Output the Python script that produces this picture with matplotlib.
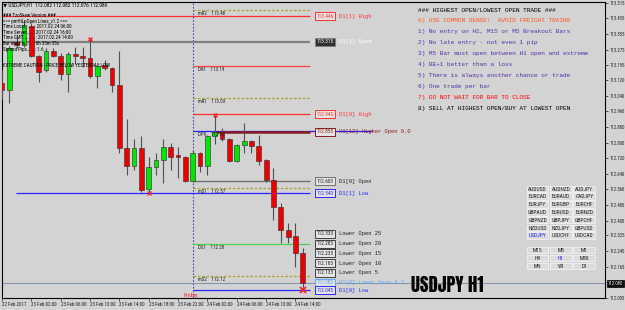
import numpy as np
import pandas as pd
import matplotlib
matplotlib.use('Agg')
import matplotlib.pyplot as plt
import matplotlib.transforms as mtrans
from matplotlib.patches import Rectangle

# ---------------- data ----------------
bar_start = '2017-02-22 22:00'
opens = [113.105, 113.069, 113.314, 113.299, 113.396, 113.243, 113.171, 113.268, 113.243, 113.151,
         113.253, 113.243, 113.232, 113.140, 113.197, 113.181, 113.094, 112.772, 112.680, 112.772,
         112.563, 112.675, 112.711, 112.777, 112.736, 112.726, 112.604, 112.747, 112.680, 112.834,
         112.854, 112.818, 112.706, 112.788, 112.808, 112.782, 112.711, 112.609, 112.471, 112.353,
         112.322, 112.235]
highs = [113.171, 113.294, 113.340, 113.427, 113.410, 113.250, 113.283, 113.283, 113.258, 113.263,
         113.289, 113.289, 113.329, 113.197, 113.222, 113.186, 113.268, 112.920, 112.818, 112.834,
         112.726, 112.747, 112.818, 112.798, 112.777, 112.731, 112.762, 112.752, 112.840, 112.941,
         112.875, 112.823, 112.793, 112.900, 112.813, 112.839, 112.716, 112.670, 112.491, 112.389,
         112.389, 112.261]
lows = [113.018, 113.002, 113.283, 113.290, 113.235, 113.110, 113.160, 113.235, 113.120, 113.059,
        113.202, 113.186, 113.130, 113.079, 113.171, 113.059, 112.747, 112.634, 112.660, 112.548,
        112.542, 112.634, 112.593, 112.660, 112.619, 112.598, 112.598, 112.650, 112.634, 112.793,
        112.808, 112.700, 112.700, 112.747, 112.747, 112.685, 112.598, 112.404, 112.287, 112.287,
        112.164, 112.046]
closes = [113.069, 113.283, 113.299, 113.401, 113.243, 113.161, 113.268, 113.243, 113.151, 113.253,
          113.243, 113.232, 113.140, 113.191, 113.181, 113.094, 112.772, 112.680, 112.772, 112.558,
          112.675, 112.711, 112.777, 112.726, 112.726, 112.604, 112.747, 112.680, 112.834, 112.854,
          112.818, 112.706, 112.788, 112.808, 112.782, 112.706, 112.609, 112.471, 112.353, 112.317,
          112.235, 112.080]
high_marks = [12, 29]
low_marks = [20]
last_low_mark = [41]

price_ticks = [113.515, 113.435, 113.355, 113.275, 113.195, 113.120, 113.040, 112.960, 112.880,
               112.800, 112.720, 112.640, 112.560, 112.480, 112.400, 112.325, 112.245, 112.165,
               112.085, 112.005]
bid_price = 112.080

level_names = ['D1[1] High', 'D1[1] Open', 'D1[0] High', 'H1[12] Higher Open 9.0',
               'D1[0] Open', 'D1[1] Low', 'H1[0] Lower Open 9.7', 'D1[0] Low']
level_values = [113.446, 113.315, 112.945, 112.855, 112.603, 112.540, 112.083, 112.045]
lower_open_names = ['Lower Open 25', 'Lower Open 20', 'Lower Open 15', 'Lower Open 10', 'Lower Open 5']
lower_open_values = [112.333, 112.283, 112.233, 112.183, 112.133]
pivot_names = ['mR2', 'DR1', 'mR1', 'DPV', 'mS1', 'DS1', 'mS2']
pivot_values = [113.48, 113.19, 113.03, 112.86, 112.57, 112.28, 112.12]

header_text = '\u25bc USDJPY,H1  112.082 112.082 112.076 112.080'
info_lines = ['### TzoSkew Version ###',
              '=== pmHiLoOpen Lines_v1.2 ===',
              'Time Local.......: 2017.02.24 06:00',
              'Time Server.....: 2017.02.24 16:00',
              'Time GMT.........: 2017.02.24 14:00',
              'Bar ends in......: 0h 33m 33s',
              'Spread Pips......: 1.6']
warning_text = 'EXTREME CAUTION - PRICE BELOW YESTERDAY LOW'
rules_lines = ['### HIGHEST OPEN/LOWEST OPEN TRADE ###',
               '0) USE COMMON SENSE!  AVOID FREIGHT TRAINS',
               '1) No entry on H1, M15 or M5 Breakout Bars',
               '2) No late entry - not even 1 pip',
               '3) M5 Bar must open between H1 open and extreme',
               '4) BE+1 better than a loss',
               '5) There is always another chance or trade',
               '6) One trade per bar',
               '7) DO NOT WAIT FOR BAR TO CLOSE',
               '8) SELL AT HIGHEST OPEN/BUY AT LOWEST OPEN']
symbols = [['AUDUSD', 'AUDNZD', 'AUDJPY'],
           ['EURCAD', 'EURAUD', 'CADJPY'],
           ['EURJPY', 'EURGBP', 'EURCHF'],
           ['GBPAUD', 'EURUSD', 'EURNZD'],
           ['GBPNZD', 'GBPJPY', 'GBPCHF'],
           ['NZDUSD', 'NZDJPY', 'GBPUSD'],
           ['USDJPY', 'USDCHF', 'USDCAD']]
timeframes = [['M15', 'M5', 'M1'], ['H4', 'H1', 'M30'], ['MN', 'W1', 'D1']]
active_symbol = 'USDJPY'
active_tf = 'H1'
chart_title = 'USDJPY H1'
day_label = 'Friday'

times = pd.date_range(bar_start, periods=len(opens), freq='h')

# ---------------- styles / layout ----------------
W, H = 625, 310
BG = '#d3d3d3'
NARROW = ['Roboto Condensed', 'DejaVu Sans']
MONO = ['Liberation Mono', 'DejaVu Sans Mono']
TITLE = ['Anton SC', 'Oswald', 'DejaVu Sans']
BAR_PX0, BAR_DX = 1.66, 7.34


def xd(px):
    return (px - BAR_PX0) / BAR_DX


fig = plt.figure(figsize=(W / 100, H / 100), dpi=100, facecolor=BG)
ax = fig.add_axes([2 / W, 1 - 298 / H, (605 - 2) / W, (298 - 2) / H], facecolor=BG)
ax.set_xlim(xd(2), xd(605))
ax.set_ylim(112.0054, 113.5186)
for s in ax.spines.values():
    s.set_color('black')
    s.set_linewidth(0.8)

idx = np.arange(len(opens))
o = np.array(opens); c = np.array(closes); hi = np.array(highs); lo = np.array(lows)
up = c >= o

ax.vlines(idx, lo, hi, color='#505050', lw=0.8, zorder=3)
ax.bar(idx, np.abs(c - o), bottom=np.minimum(o, c), width=0.66,
       color=np.where(up, '#00e800', '#ee0000'), edgecolor='#383838', linewidth=0.45, zorder=4)

fri = int(np.argmax(times.day == 24))
ax.axvline(fri, color='#4848a8', lw=0.8, ls=(0, (1.5, 1.5)), zorder=2)

line_end = xd(310)
dotted = (0, (2, 1.5))
piv_style = {'mR2': ('#a8a030', dotted), 'DR1': ('#ff4040', '-'), 'mR1': ('#a8a030', dotted),
             'DPV': ('#2020ff', '-'), 'mS1': ('#a8a030', dotted), 'DS1': ('#50d050', '-'),
             'mS2': ('#a8a030', dotted)}
for name, val in zip(pivot_names, pivot_values):
    col, ls = piv_style[name]
    x1 = xd(372) if name == 'DPV' else line_end
    ax.hlines(val, fri, x1, color=col, lw=0.9, linestyles=ls, zorder=2)
    ax.annotate(f'{name}    {val:.2f}', (xd(198), val), xytext=(0, -0.8), textcoords='offset points',
                fontsize=3.6, family=NARROW, color='#202020', va='top', ha='left', zorder=6)

lvl_style = {
    'D1[1] High': dict(color='#ff3030', start=xd(2), lw=0.9, fc='#e4e4e4', tc='#ff3030', draw=True),
    'D1[1] Open': dict(color='#808080', start=xd(2), lw=1.6, fc='#303030', tc='white', draw=True),
    'D1[0] High': dict(color='#ff3030', start=fri, lw=0.9, fc='#e4e4e4', tc='#ff3030', draw=True),
    'H1[12] Higher Open 9.0': dict(color='#8b1a1a', start=xd(216), lw=1.8, fc='#e4e4e4', tc='#8b1a1a', draw=True),
    'D1[0] Open': dict(color='#707070', start=fri, lw=1.0, fc='#e4e4e4', tc='#202020', draw=True),
    'D1[1] Low': dict(color='#2828ff', start=xd(16), lw=0.9, fc='#e4e4e4', tc='#2828ff', draw=True),
    'H1[0] Lower Open 9.7': dict(color='#5aa8ff', start=fri, lw=0.9, fc='#e4e4e4', tc='#5aa8ff', draw=False),
    'D1[0] Low': dict(color='#2828ff', start=fri, lw=0.9, fc='#e4e4e4', tc='#2828ff', draw=True),
}
for name, val in zip(level_names, level_values):
    st = lvl_style[name]
    if st['draw']:
        ax.hlines(val, st['start'], line_end, color=st['color'], lw=st['lw'], zorder=2)
    ax.text(xd(316.5), val, f'{val:.3f}', fontsize=3.8, family=NARROW, color=st['tc'],
            va='center', ha='left', zorder=7,
            bbox=dict(boxstyle='square,pad=0.3', fc=st['fc'], ec=st['color'], lw=0.7))
    ax.text(xd(339), val, name, fontsize=3.9, family=MONO, color=st['tc'], va='center', ha='left', zorder=7)

for name, val in zip(lower_open_names, lower_open_values):
    ax.text(xd(316.5), val, f'{val:.3f}', fontsize=3.8, family=NARROW, color='#202020',
            va='center', ha='left', zorder=7,
            bbox=dict(boxstyle='square,pad=0.3', fc='#e4e4e4', ec='#404040', lw=0.7))
    ax.text(xd(339), val, name, fontsize=3.9, family=MONO, color='#202020', va='center', ha='left', zorder=7)

ax.axhline(bid_price, color='#8896a8', lw=0.8, zorder=2)

ax.plot(idx[high_marks], hi[high_marks], ls='none', marker='X', ms=3, color='#ff2020', mew=0.3, zorder=6)
ax.plot(idx[low_marks], lo[low_marks], ls='none', marker='x', ms=3, color='#ff2020', mew=0.9, zorder=6)
ax.plot(idx[last_low_mark], lo[last_low_mark], ls='none', marker='x', ms=5, color='#ff2020', mew=1.3, zorder=6)

ax.yaxis.tick_right()
ax.set_yticks(price_ticks)
ax.set_yticklabels(['' if abs(v - bid_price) < 0.01 else f'{v:.3f}' for v in price_ticks],
                   fontsize=3.4, family=NARROW)
ax.tick_params(axis='y', length=2.5, width=0.5, pad=1.0, colors='#202020')
xt = idx[::4]
ax.set_xticks(xt)
ax.set_xticklabels(['22 Feb 2017' if i == 0 else times[i].strftime('%d %b %H:%M') for i in xt],
                   fontsize=3.6, family=NARROW, ha='left')
ax.tick_params(axis='x', length=2, width=0.5, pad=1.2, colors='#202020')

btrans = mtrans.blended_transform_factory(ax.transAxes, ax.transData)
ax.text(1.0045, bid_price, f'{bid_price:.3f}', transform=btrans, fontsize=3.4, family=NARROW,
        color='white', va='center', ha='left', zorder=8, clip_on=False,
        bbox=dict(boxstyle='square,pad=0.25', fc='black', ec='black', lw=0.5))

# ---------------- overlay (screen objects) ----------------
ov = fig.add_axes([0, 0, 1, 1], facecolor='none')
ov.set_xlim(0, W)
ov.set_ylim(H, 0)
ov.axis('off')

ov.text(3, 5, header_text, fontsize=3.9, family=NARROW, color='black', va='center', ha='left')
for k, line in enumerate(info_lines):
    ov.text(3, 15.7 + k * 5.55, line, fontsize=3.6, family=NARROW, color='black', va='center', ha='left')
ov.text(3, 65.5, warning_text, fontsize=3.7, family=NARROW, color='black', va='center', ha='left')

rule_colors = ['black', '#ff5522', '#5530a8', '#5530a8', '#5530a8', '#5530a8', '#5530a8', '#5530a8',
               '#ff0000', 'black']
for k, (line, col) in enumerate(zip(rules_lines, rule_colors)):
    yy = 10 if k == 0 else 20.7 + (k - 1) * 11
    ov.text(418, yy, line, fontsize=4.4, family=MONO, color=col, va='center', ha='left')

col_x = [526.7, 550.0, 573.3]
bw, bh = 21.7, 6.6


def button(x, y, label, active):
    ov.add_patch(Rectangle((x, y), bw, bh, fc='#dcdcdc', ec='#f2f2f2', lw=0.6))
    ov.text(x + bw / 2, y + bh / 2 + 0.2, label, fontsize=4.0, family=NARROW,
            color='#2020ff' if active else '#202020', ha='center', va='center')


for r, row in enumerate(symbols):
    for ci, s in enumerate(row):
        button(col_x[ci], 185.6 + r * 7.8, s, s == active_symbol)
for r, row in enumerate(timeframes):
    for ci, s in enumerate(row):
        button(col_x[ci], 246.6 + r * 8.0, s, s == active_tf)

ov.text(411, 284.5, chart_title, fontsize=13.5, family=TITLE, color='black', va='center', ha='left')
ov.text(184, 295.8, day_label, fontsize=4.3, family=NARROW, color='#ff2020', va='center', ha='left')

fig.savefig('out.png', dpi=100, facecolor=BG)
